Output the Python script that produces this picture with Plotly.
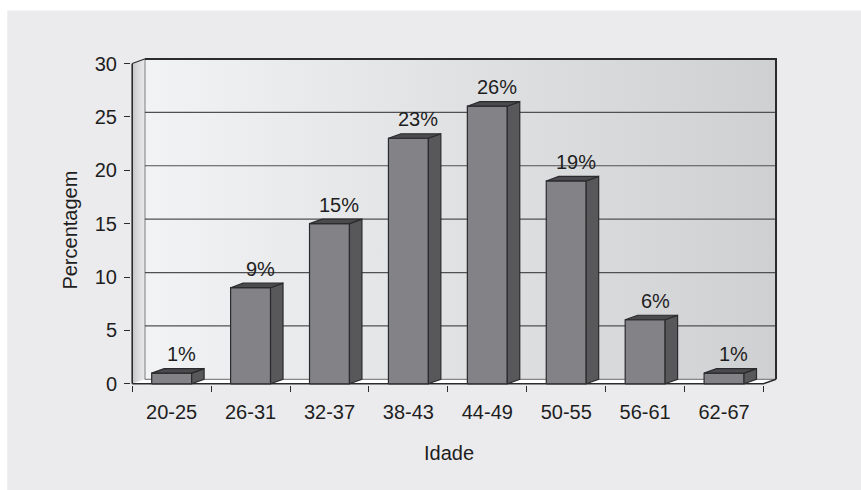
import plotly.graph_objects as go

# Age groups and share of respondents (%)
ages = ["20-25", "26-31", "32-37", "38-43", "44-49", "50-55", "56-61", "62-67"]
percent = [1, 9, 15, 23, 26, 19, 6, 1]
y_ticks = [0, 5, 10, 15, 20, 25, 30]
y_max = 30

# Front-plane pixel geometry of the pseudo-3D box
W, H = 861, 490
PX_X0 = 132.0        # pixel x of the left front edge (x = -0.5)
PX_PER_CAT = 79.0    # pixels per category
PX_Y0 = 383.5        # pixel y of value 0 on the front plane
PX_PER_UNIT = 10.68  # pixels per percentage point
DEPTH_PX = (12.5, 4.5)

dx = DEPTH_PX[0] / PX_PER_CAT
dy = DEPTH_PX[1] / PX_PER_UNIT
n = len(ages)
bar_half = 0.253

pad_l, pad_b, pad_r, pad_t = 1.2, 1.2, 2.0, 2.0
x_lo = -0.5 - pad_l / PX_PER_CAT
x_hi = n - 0.5 + dx + pad_r / PX_PER_CAT
y_lo = -pad_b / PX_PER_UNIT
y_hi = y_max + dy + pad_t / PX_PER_UNIT

left_px = PX_X0 + (x_lo + 0.5) * PX_PER_CAT
right_px = PX_X0 + (x_hi + 0.5) * PX_PER_CAT
bottom_px = PX_Y0 - y_lo * PX_PER_UNIT
top_px = PX_Y0 - y_hi * PX_PER_UNIT

EDGE = "#2b2b2d"
TEXT = "#1e1e1e"
FONT = "Liberation Sans, Arial, Helvetica, sans-serif"
FS = 20

fig = go.Figure()


def poly(xs, ys, fill=None, line_color=EDGE, lw=1.0, gradient=None):
    kw = dict(
        x=list(xs) + [xs[0]],
        y=list(ys) + [ys[0]],
        mode="lines",
        fill="toself",
        line=dict(color=line_color, width=lw),
        hoverinfo="skip",
        showlegend=False,
    )
    if gradient is not None:
        kw["fillgradient"] = dict(type="horizontal", colorscale=gradient)
    else:
        kw["fillcolor"] = fill
    fig.add_trace(go.Scatter(**kw))


def seg(xs, ys, color=EDGE, lw=1.0):
    fig.add_trace(go.Scatter(x=xs, y=ys, mode="lines",
                             line=dict(color=color, width=lw),
                             hoverinfo="skip", showlegend=False))


xl, xr = -0.5, n - 0.5

# back wall with horizontal shading
poly([xl + dx, xr + dx, xr + dx, xl + dx], [dy, dy, y_max + dy, y_max + dy],
     line_color="rgba(0,0,0,0)", lw=0,
     gradient=[[0, "#f2f3f5"], [0.5, "#e0e1e3"], [1, "#cfd0d2"]])

# gridlines on the back wall
for t in y_ticks[1:-1]:
    seg([xl + dx, xr + dx], [t + dy, t + dy], color="#505052", lw=1.2)

# back wall frame
seg([xl + dx, xr + dx, xr + dx], [y_max + dy, y_max + dy, dy], lw=2)
seg([xl + dx, xl + dx], [dy, y_max + dy], lw=1.2)

# left side wall
poly([xl, xl + dx, xl + dx, xl], [0, dy, y_max + dy, y_max],
     line_color="rgba(0,0,0,0)", lw=0,
     gradient=[[0, "#c4c4c6"], [0.5, "#dcdcde"], [1, "#e8e8ea"]])
seg([xl, xl], [0, y_max], lw=1.6)
seg([xl, xl + dx], [y_max, y_max + dy], lw=1.2)

# floor
poly([xl, xr, xr + dx, xl + dx], [0, 0, dy, dy], fill="#ffffff",
     line_color="rgba(0,0,0,0)", lw=0)
seg([xl + dx, xr + dx], [dy, dy], color="#6a6a6c", lw=1)
seg([xl, xr, xr + dx], [0, 0, dy], lw=1.5)

# bars: front face, side face, top face
for i, v in enumerate(percent):
    a, b = i - bar_half, i + bar_half
    poly([a, b, b, a], [0, 0, v, v], fill="#838387", lw=1.2)
    poly([b, b + dx, b + dx, b], [0, dy, v + dy, v], fill="#58585b", lw=1.2)
    poly([a, b, b + dx, a + dx], [v, v, v + dy, v + dy], fill="#4b4b4e", lw=1.2)
    fig.add_annotation(x=i + 0.125, y=v, text=f"{v}%", showarrow=False,
                       yanchor="middle", yshift=19,
                       font=dict(family=FONT, size=FS, color=TEXT))

# helpers converting figure pixels to paper coordinates
sx = lambda px: (px - left_px) / (right_px - left_px)
sy = lambda py: (bottom_px - py) / (bottom_px - top_px)

# axis titles
fig.add_annotation(xref="paper", yref="paper", x=sx(449), y=sy(453),
                   text="Idade", showarrow=False,
                   xanchor="center", yanchor="middle",
                   font=dict(family=FONT, size=FS, color=TEXT))
fig.add_annotation(xref="paper", yref="paper", x=sx(70), y=sy(230),
                   text="Percentagem", showarrow=False, textangle=-90,
                   xanchor="center", yanchor="middle",
                   font=dict(family=FONT, size=FS, color=TEXT))

# outer panel: light grey block with a thin white strip top and left
fig.add_shape(type="rect", xref="paper", yref="paper",
              x0=sx(7), x1=sx(W + 5), y0=sy(H + 5), y1=sy(10),
              fillcolor="#ebebed", line=dict(width=0), layer="below")

fig.update_layout(
    width=W, height=H,
    margin=dict(l=left_px, r=W - right_px, t=top_px, b=H - bottom_px),
    paper_bgcolor="#ffffff",
    plot_bgcolor="rgba(0,0,0,0)",
    font=dict(family=FONT, size=FS, color=TEXT),
    xaxis=dict(
        range=[x_lo, x_hi], tickmode="array",
        tickvals=list(range(n)), ticktext=ages,
        ticks="", showgrid=False, zeroline=False, showline=False,
        ticklabelstandoff=13, automargin=False,
        minor=dict(tickmode="array", tickvals=[i - 0.5 for i in range(n + 1)],
                   ticks="outside", ticklen=6, tickcolor=EDGE, tickwidth=1.3,
                   showgrid=False),
        fixedrange=True,
    ),
    yaxis=dict(
        range=[y_lo, y_hi], tickmode="array", tickvals=y_ticks,
        ticks="outside", ticklen=6, tickcolor=EDGE, tickwidth=1.3,
        showgrid=False, zeroline=False, showline=False,
        ticklabelstandoff=3, automargin=False,
        fixedrange=True,
    ),
)

fig.write_html("out.html")
